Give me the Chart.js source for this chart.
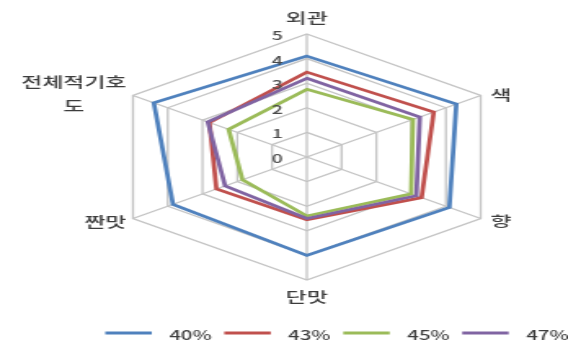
<!DOCTYPE html>
<html lang="ko">
<head>
<meta charset="utf-8">
<title>관능평가 레이더 차트</title>
<script src="https://cdn.jsdelivr.net/npm/chart.js@4/dist/chart.umd.min.js"></script>
<style>
  html, body { margin: 0; padding: 0; background: #ffffff; overflow: hidden; }
  /* The plot is laid out on a narrower canvas and widened horizontally. */
  #stage { width: 348px; height: 347px; transform: scaleX(1.632); transform-origin: 0 0; }
</style>
</head>
<body>
<div id="stage"><canvas id="radar"></canvas></div>
<script>
// Sensory attributes (clockwise from the top)
const categories = ['외관', '색', '향', '단맛', '짠맛', ['전체적기호', '도']];

// Series names and scores per attribute
const seriesNames = ['40%', '43%', '45%', '47%'];
const values40 = [4.1, 4.3, 4.1, 4.0, 3.85, 4.4];
const values43 = [3.45, 3.65, 3.3, 2.55, 2.6, 2.8];
const values45 = [2.75, 3.05, 3.0, 2.4, 1.85, 2.25];
const values47 = [3.2, 3.25, 3.15, 2.5, 2.35, 2.85];

// Radial axis tick labels
const tickLabels = ['0', '1', '2', '3', '4', '5'];

const seriesColors = ['#4f81bd', '#c0504d', '#9bbb59', '#8064a2'];
const seriesValues = [values40, values43, values45, values47];

const LABEL_FONT = '500 14px "Noto Sans CJK KR", "Noto Sans", sans-serif';
const TICK_FONT = '500 12px "Noto Sans CJK KR", "Noto Sans", sans-serif';
const LEGEND_FONT = '500 12.5px "Noto Sans CJK KR", "Noto Sans", sans-serif';

// Axis captions placed just outside the outer ring
const axisCaptionPlugin = {
  id: 'axisCaptions',
  afterDatasetsDraw(chart) {
    const s = chart.scales.r;
    const ctx = chart.ctx;
    const R = s.drawingArea;
    const place = [
      { dx: 0, dy: -16, align: 'center' },
      { dx: 6, dy: -1, align: 'left' },
      { dx: 6, dy: 2, align: 'left' },
      { dx: 0, dy: 17, align: 'center' },
      { dx: -4, dy: 3, align: 'right' },
      { dx: -4, dy: -1.5, align: 'right' }
    ];
    const lineH = 24;
    ctx.save();
    ctx.font = LABEL_FONT;
    ctx.fillStyle = '#3d3d3d';
    ctx.textBaseline = 'middle';
    ctx.textAlign = 'center';
    categories.forEach((label, i) => {
      const p = s.getPointPosition(i, R);
      const lines = [].concat(label);
      const w = Math.max(...lines.map(l => ctx.measureText(l).width));
      const o = place[i];
      let cx = p.x + o.dx;
      if (o.align === 'left') cx += w / 2;
      if (o.align === 'right') cx -= w / 2;
      const y0 = p.y + o.dy - (lines.length - 1) * lineH / 2;
      lines.forEach((l, k) => ctx.fillText(l, cx, y0 + k * lineH));
    });

    // tick values beside the vertical axis
    ctx.font = TICK_FONT;
    ctx.fillStyle = '#4a4a4a';
    tickLabels.forEach(t => {
      const d = s.getDistanceFromCenterForValue(Number(t));
      ctx.fillText(t, s.xCenter - 18, s.yCenter - d + 1.5);
    });
    ctx.restore();
  }
};

// Line-sample legend along the bottom
const lineLegendPlugin = {
  id: 'lineLegend',
  afterDraw(chart) {
    const ctx = chart.ctx;
    const start = 64.5, step = 72.9, len = 28.5, textGap = 39.2, y = 333;
    ctx.save();
    ctx.font = LEGEND_FONT;
    ctx.textBaseline = 'middle';
    ctx.textAlign = 'left';
    chart.data.datasets.forEach((ds, i) => {
      const x = start + i * step;
      ctx.strokeStyle = ds.borderColor;
      ctx.lineWidth = 3;
      ctx.beginPath();
      ctx.moveTo(x, y);
      ctx.lineTo(x + len, y);
      ctx.stroke();
      ctx.fillStyle = '#3d3d3d';
      ctx.fillText(ds.label, x + textGap, y + 2);
    });
    ctx.restore();
  }
};

const datasets = seriesNames.map((name, i) => ({
  label: name,
  data: seriesValues[i],
  borderColor: seriesColors[i],
  backgroundColor: 'rgba(0,0,0,0)',
  borderWidth: 2.75,
  pointRadius: 0,
  pointHoverRadius: 0,
  fill: false,
  tension: 0,
  order: seriesNames.length - i
}));

new Chart(document.getElementById('radar'), {
  type: 'radar',
  data: { labels: categories, datasets },
  options: {
    responsive: true,
    maintainAspectRatio: false,
    animation: false,
    layout: { padding: { top: 34, bottom: 67, left: 29, right: 1 } },
    plugins: {
      legend: { display: false },
      tooltip: { enabled: false }
    },
    scales: {
      r: {
        min: 0,
        max: 5,
        ticks: { stepSize: 1, display: false },
        pointLabels: { display: false },
        grid: { color: '#c4c4c4', lineWidth: 1.3 },
        angleLines: { color: '#c4c4c4', lineWidth: 1.3 }
      }
    }
  },
  plugins: [axisCaptionPlugin, lineLegendPlugin]
});
</script>
</body>
</html>
